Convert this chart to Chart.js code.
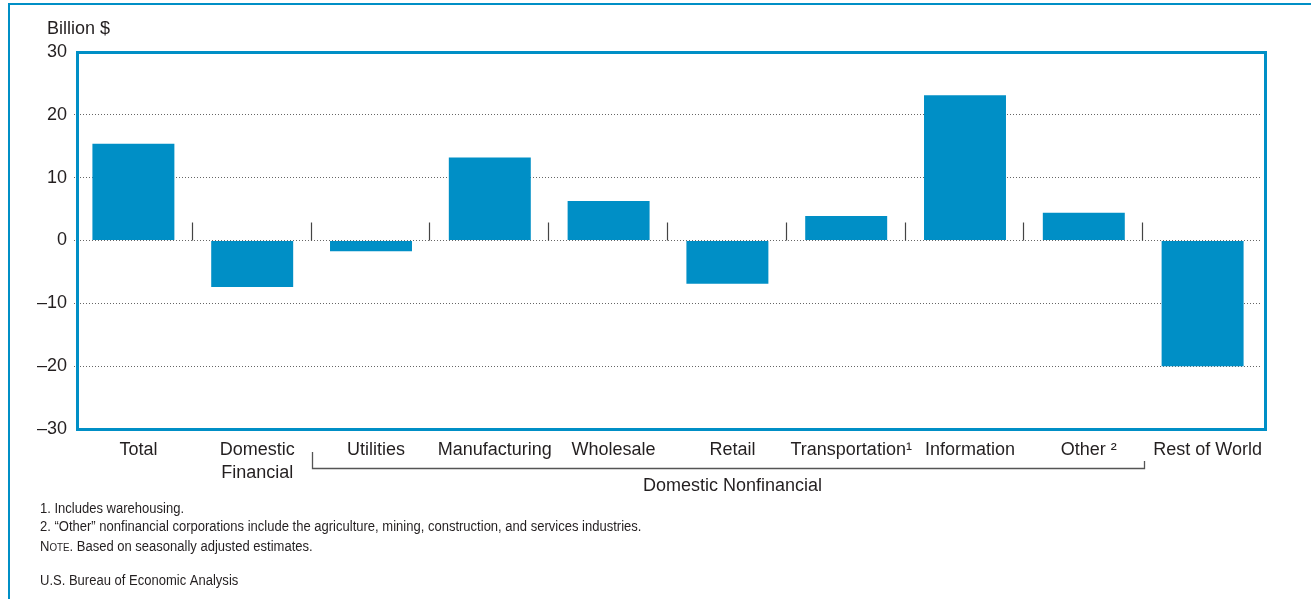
<!DOCTYPE html>
<html>
<head>
<meta charset="utf-8">
<script src="https://cdn.jsdelivr.net/npm/chart.js@4.4.1/dist/chart.umd.min.js"></script>
<style>
  html, body { margin: 0; padding: 0; background: #fff; }
  #wrap { position: relative; width: 1311px; height: 599px; }
</style>
</head>
<body>
<div id="wrap"><canvas id="grafico" width="1311" height="599"></canvas></div>
<script>
// Dados do gráfico
const categorias = ['Total', ['Domestic', 'Financial'], 'Utilities', 'Manufacturing', 'Wholesale',
  'Retail', 'Transportation¹', 'Information', 'Other ²', 'Rest of World'];
const valores = [15.4, -7.4, -1.7, 13.2, 6.3, -6.9, 3.9, 23.1, 4.4, -20.0];
const yTicks = [30, 20, 10, 0, -10, -20, -30];
const grupoLabel = 'Domestic Nonfinancial';
const grupoInicio = 2, grupoFim = 8;
const notas = [
  '1. Includes warehousing.',
  '2. \u201COther\u201D nonfinancial corporations include the agriculture, mining, construction, and services industries.'
];
const fonte = 'U.S. Bureau of Economic Analysis';

const azul = '#008fc6';
const texto = '#231f20';
const familia = '"Liberation Sans", Arial, sans-serif';

const extras = {
  id: 'extras',
  afterDraw(chart) {
    const ctx = chart.ctx;
    const a = chart.chartArea;
    const x = chart.scales.x, y = chart.scales.y;
    const y0 = y.getPixelForValue(0);
    ctx.save();

    // moldura externa (esquerda e topo)
    ctx.fillStyle = azul;
    ctx.fillRect(8, 3, 2, 599);
    ctx.fillRect(8, 3, 1311, 2);

    // moldura da área do gráfico
    ctx.strokeStyle = azul;
    ctx.lineWidth = 3;
    ctx.strokeRect(a.left + 3.5, a.top + 0.5, a.right - a.left, a.bottom - a.top);

    // marcas de separação sobre a linha zero
    ctx.strokeStyle = '#444';
    ctx.lineWidth = 1.2;
    for (let i = 0; i < categorias.length - 1; i++) {
      const xs = Math.round((x.getPixelForValue(i) + x.getPixelForValue(i + 1)) / 2) - 0.5;
      ctx.beginPath();
      ctx.moveTo(xs, y0 - 18);
      ctx.lineTo(xs, y0);
      ctx.stroke();
    }

    // colchete "Domestic Nonfinancial"
    const half = (x.getPixelForValue(1) - x.getPixelForValue(0)) / 2;
    const bx1 = Math.round(x.getPixelForValue(grupoInicio) - half) + 0.5;
    const bx2 = Math.round(x.getPixelForValue(grupoFim) + half) + 1.5;
    ctx.strokeStyle = '#555';
    ctx.lineWidth = 1.3;
    ctx.beginPath();
    ctx.moveTo(bx1, 452);
    ctx.lineTo(bx1, 468.5);
    ctx.lineTo(bx2, 468.5);
    ctx.lineTo(bx2, 461);
    ctx.stroke();
    ctx.fillStyle = texto;
    ctx.font = '18px ' + familia;
    ctx.textAlign = 'center';
    ctx.textBaseline = 'middle';
    ctx.fillText(grupoLabel, (bx1 + bx2) / 2 + 4, 486);

    // título do eixo
    ctx.textAlign = 'left';
    ctx.fillText('Billion $', 47, 29);

    // notas de rodapé (fonte condensada)
    ctx.textBaseline = 'alphabetic';
    const linha = (txt, yy) => {
      ctx.save();
      ctx.translate(40, yy);
      ctx.scale(0.93, 1);
      ctx.font = '14px ' + familia;
      ctx.fillText(txt, 0, 0);
      ctx.restore();
    };
    linha(notas[0], 513);
    linha(notas[1], 531);
    // "Note." em versalete
    ctx.save();
    ctx.translate(40, 551);
    ctx.scale(0.93, 1);
    ctx.font = '14px ' + familia;
    ctx.fillText('N', 0, 0);
    let w = ctx.measureText('N').width;
    ctx.font = '10.5px ' + familia;
    ctx.fillText('OTE', w, 0);
    w += ctx.measureText('OTE').width;
    ctx.font = '14px ' + familia;
    ctx.fillText('. Based on seasonally adjusted estimates.', w, 0);
    ctx.restore();
    linha(fonte, 585);

    ctx.restore();
  }
};

const ctx = document.getElementById('grafico').getContext('2d');
new Chart(ctx, {
  type: 'bar',
  data: {
    labels: categorias,
    datasets: [{
      data: valores,
      backgroundColor: azul,
      barPercentage: 0.69,
      categoryPercentage: 1
    }]
  },
  options: {
    responsive: false,
    animation: false,
    layout: { padding: { left: 0, top: 52, right: 49, bottom: 0 } },
    plugins: {
      legend: { display: false },
      tooltip: { enabled: false }
    },
    scales: {
      x: {
        grid: { display: false, drawTicks: false },
        border: { display: false },
        ticks: {
          color: texto,
          font: { family: familia, size: 18, lineHeight: 1.3 },
          maxRotation: 0,
          autoSkip: false,
          labelOffset: 5,
          padding: 9
        },
        afterFit(s) { s.height = 170; }
      },
      y: {
        min: -30,
        max: 30,
        afterBuildTicks(s) { s.ticks = yTicks.map(v => ({ value: v })); },
        grid: {
          color: ctx => (ctx.tick && Math.abs(ctx.tick.value) === 30) ? 'rgba(0,0,0,0)' : '#666',
          lineWidth: 1,
          drawTicks: false
        },
        border: { display: false, dash: [1, 2] },
        ticks: {
          color: texto,
          padding: 7,
          font: { family: familia, size: 18 },
          callback: v => v < 0 ? '\u2013' + Math.abs(v) : String(v)
        },
        afterFit(s) { s.width = 74; }
      }
    }
  },
  plugins: [extras]
});
</script>
</body>
</html>
